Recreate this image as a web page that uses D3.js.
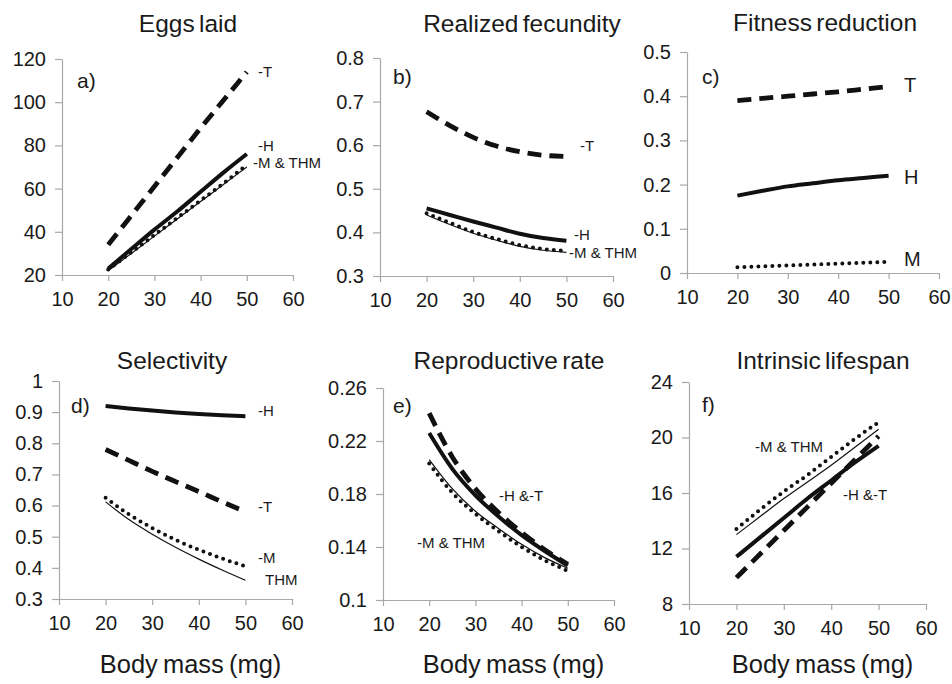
<!DOCTYPE html>
<html>
<head>
<meta charset="utf-8">
<script src="https://cdn.jsdelivr.net/npm/d3@7"></script>
<style>
  body { margin: 0; background: #fff; }
  svg text { font-family: "Liberation Sans", Arial, Helvetica, sans-serif; fill: #1a1a1a; }
  .axis path, .axis line { stroke: #a8a8a8; stroke-width: 1.2; }
  .axis text { font-size: 20px; }
</style>
</head>
<body>
<div id="chart"></div>
<script>
// body mass (mg) at which the curves were evaluated
var masses = [20, 25, 30, 35, 40, 45, 50];
var xTicks = [10, 20, 30, 40, 50, 60];

// a) eggs laid
var eggsT   = [34, 47.5, 61, 74.5, 88, 101, 114];
var eggsH   = [23, 32, 41, 49.5, 58.5, 67.5, 76];
var eggsM   = [22.5, 30.5, 38.5, 46.5, 54.5, 62.5, 71];
var eggsTHM = [22, 30, 38, 46, 54, 62, 70];

// b) realized fecundity
var fecT   = [0.677, 0.645, 0.618, 0.598, 0.585, 0.577, 0.574];
var fecH   = [0.455, 0.44, 0.425, 0.411, 0.397, 0.387, 0.381];
var fecM   = [0.444, 0.422, 0.401, 0.385, 0.371, 0.362, 0.358];
var fecTHM = [0.44, 0.418, 0.398, 0.382, 0.368, 0.359, 0.354];

// c) fitness reduction
var fitT = [0.39, 0.395, 0.4, 0.405, 0.41, 0.416, 0.422];
var fitH = [0.175, 0.186, 0.196, 0.203, 0.21, 0.215, 0.22];
var fitM = [0.013, 0.015, 0.017, 0.019, 0.021, 0.023, 0.025];

// d) selectivity
var selH   = [0.92, 0.912, 0.905, 0.899, 0.894, 0.89, 0.887];
var selT   = [0.78, 0.745, 0.71, 0.677, 0.645, 0.612, 0.58];
var selM   = [0.625, 0.572, 0.528, 0.49, 0.458, 0.43, 0.405];
var selTHM = [0.612, 0.555, 0.508, 0.466, 0.428, 0.393, 0.36];

// e) reproductive rate
var repT   = [0.241, 0.208, 0.184, 0.166, 0.151, 0.138, 0.127];
var repH   = [0.226, 0.199, 0.179, 0.163, 0.149, 0.137, 0.126];
var repM   = [0.203, 0.181, 0.165, 0.152, 0.14, 0.13, 0.122];
var repTHM = [0.206, 0.184, 0.167, 0.154, 0.142, 0.132, 0.124];

// f) intrinsic lifespan
var lifeM   = [13.4, 14.8, 16.1, 17.3, 18.6, 19.9, 21.1];
var lifeTHM = [13.0, 14.3, 15.6, 16.8, 18.0, 19.3, 20.6];
var lifeH   = [11.4, 12.8, 14.2, 15.6, 16.9, 18.2, 19.4];
var lifeT   = [9.9, 11.6, 13.3, 15.0, 16.7, 18.4, 20.1];

var titles = ["Eggs laid", "Realized fecundity", "Fitness reduction",
              "Selectivity", "Reproductive rate", "Intrinsic lifespan"];
var letters = ["a)", "b)", "c)", "d)", "e)", "f)"];
var yTicks = [
  [20, 40, 60, 80, 100, 120],
  [0.3, 0.4, 0.5, 0.6, 0.7, 0.8],
  [0, 0.1, 0.2, 0.3, 0.4, 0.5],
  [0.3, 0.4, 0.5, 0.6, 0.7, 0.8, 0.9, 1],
  [0.1, 0.14, 0.18, 0.22, 0.26],
  [8, 12, 16, 20, 24]
];
var seriesByPanel = [
  { THM: eggsTHM, M: eggsM, H: eggsH, T: eggsT },
  { THM: fecTHM, M: fecM, H: fecH, T: fecT },
  { M: fitM, H: fitH, T: fitT },
  { THM: selTHM, M: selM, H: selH, T: selT },
  { THM: repTHM, M: repM, H: repH, T: repT },
  { THM: lifeTHM, M: lifeM, H: lifeH, T: lifeT }
];
var seriesLabels = [
  [["-T", 258, 77], ["-H", 258, 151], ["-M & THM", 253, 168]],
  [["-T", 580, 151], ["-H", 574, 240], ["-M & THM", 569, 258]],
  [["T", 904, 92, 20], ["H", 904, 184, 20], ["M", 904, 266, 20]],
  [["-H", 258, 416], ["-T", 258, 512], ["-M", 258, 563], ["THM", 265, 585]],
  [["-H &-T", 499, 501], ["-M & THM", 417, 548]],
  [["-M & THM", 755, 452], ["-H &-T", 843, 500]]
];

// pixel frames of each panel
var frames = [
  { x0: 62,  x1: 293, yb: 275, yt: 59,  titleX: 188, titleY: 32,  lx: 77,  ly: 88 },
  { x0: 380, x1: 613, yb: 276, yt: 58,  titleX: 522, titleY: 32,  lx: 393, ly: 84 },
  { x0: 687, x1: 939, yb: 273, yt: 52,  titleX: 825, titleY: 31,  lx: 702, ly: 84 },
  { x0: 59,  x1: 292, yb: 599, yt: 381, titleX: 172, titleY: 369, lx: 71,  ly: 413 },
  { x0: 383, x1: 614, yb: 600, yt: 388, titleX: 509, titleY: 369, lx: 393, ly: 413 },
  { x0: 689, x1: 926, yb: 604, yt: 382, titleX: 823, titleY: 369, lx: 702, ly: 412 }
];

var styles = {
  THM: { width: 1.2, dash: null, cap: "butt" },
  M:   { width: 4, dash: "0 7", cap: "round" },
  H:   { width: 4, dash: null, cap: "butt" },
  T:   { width: 4.8, dash: "14 8", cap: "butt" }
};

var svg = d3.select("#chart").append("svg")
  .attr("width", 952)
  .attr("height", 684);

frames.forEach(function(f, i) {
  var ticks = yTicks[i];
  var x = d3.scaleLinear().domain([10, 60]).range([f.x0, f.x1]);
  var y = d3.scaleLinear().domain([ticks[0], ticks[ticks.length - 1]]).range([f.yb, f.yt]);

  svg.append("g")
    .attr("class", "axis")
    .attr("transform", "translate(0," + f.yb + ")")
    .call(d3.axisBottom(x).tickValues(xTicks).tickSize(6).tickSizeOuter(0).tickPadding(11).tickFormat(d3.format("d")))
    .call(function(g) { g.select(".domain").attr("d", "M" + (f.x0 - 7) + ",0.5H" + f.x1); });

  svg.append("g")
    .attr("class", "axis")
    .attr("transform", "translate(" + f.x0 + ",0)")
    .call(d3.axisLeft(y).tickValues(ticks).tickSize(7).tickSizeOuter(0).tickPadding(9).tickFormat(d => String(+d.toFixed(2))));

  svg.selectAll(".axis .domain").attr("fill", "none");
  svg.selectAll(".axis text").attr("fill", "#1a1a1a");

  var line = d3.line()
    .x(function(d) { return x(d[0]); })
    .y(function(d) { return y(d[1]); })
    .curve(d3.curveMonotoneX);

  var series = seriesByPanel[i];
  Object.keys(series).forEach(function(key) {
    var st = styles[key];
    svg.append("path")
      .datum(masses.map(function(m, j) { return [m, series[key][j]]; }))
      .attr("d", line)
      .attr("fill", "none")
      .attr("stroke", "#111")
      .attr("stroke-width", st.width)
      .attr("stroke-linecap", st.cap)
      .attr("stroke-dasharray", st.dash);
  });

  svg.append("text")
    .attr("x", f.titleX)
    .attr("y", f.titleY)
    .attr("text-anchor", "middle")
    .attr("font-size", 24.5)
    .attr("word-spacing", -2.5)
    .text(titles[i]);

  svg.append("text")
    .attr("x", f.lx)
    .attr("y", f.ly)
    .attr("font-size", 21)
    .text(letters[i]);

  seriesLabels[i].forEach(function(lab) {
    svg.append("text")
      .attr("x", lab[1])
      .attr("y", lab[2])
      .attr("font-size", lab[3] || 15)
      .text(lab[0]);
  });

  if (i >= 3) {
    svg.append("text")
      .attr("x", (f.x0 + f.x1) / 2 + 15)
      .attr("y", 673)
      .attr("text-anchor", "middle")
      .attr("font-size", 25.5)
      .attr("word-spacing", -2)
      .text("Body mass (mg)");
  }
});
</script>
</body>
</html>
